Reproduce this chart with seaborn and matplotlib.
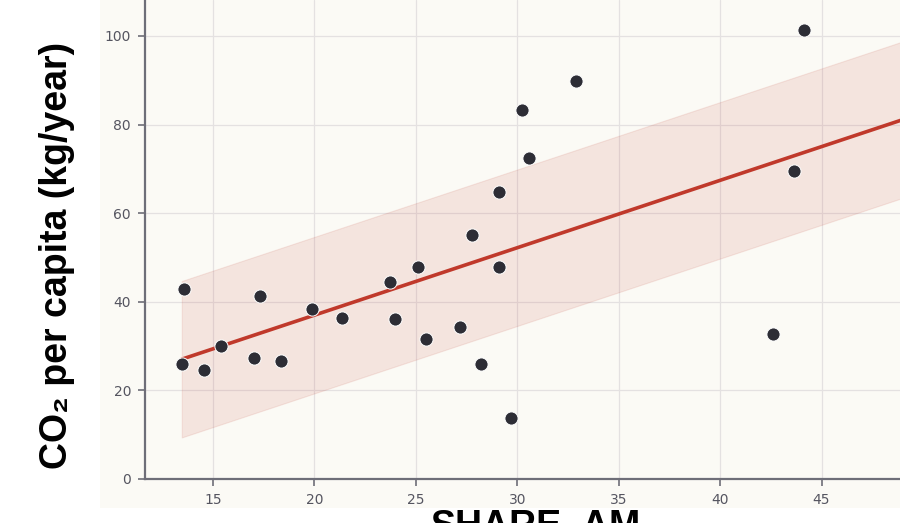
import numpy as np
import pandas as pd
import seaborn as sns
import matplotlib.pyplot as plt
from matplotlib.patches import Rectangle

# Share of active-mobility trips (%) vs. transport CO2 per capita
share_am = [13.46, 13.58, 14.56, 15.38, 17.01, 17.32, 18.37, 19.90, 21.36,
            23.71, 23.99, 25.12, 25.50, 27.19, 27.76, 28.23, 29.10, 29.10,
            29.69, 30.24, 30.60, 32.90, 42.63, 43.62, 44.16]
co2_per_capita = [26.0, 42.8, 24.6, 30.1, 27.3, 41.4, 26.7, 38.4, 36.4,
                  44.4, 36.0, 47.8, 31.6, 34.2, 55.1, 26.0, 64.8, 47.8,
                  13.7, 83.2, 72.4, 89.8, 32.8, 69.6, 101.4]
x_ticks = [15, 20, 25, 30, 35, 40, 45]
y_ticks = [0, 20, 40, 60, 80, 100]

df = pd.DataFrame({"SHARE_AM": share_am, "CO2": co2_per_capita})

sns.set_theme(style="whitegrid")
plt.rcParams["font.family"] = ["DejaVu Sans"]

BG = "#fbfaf5"
RED = "#c0392b"
DOT = "#2d2d35"

fig = plt.figure(figsize=(9, 5.23), dpi=100, facecolor="white")
fig.patches.append(Rectangle((100 / 900, 15 / 523), 1, 1, transform=fig.transFigure,
                             facecolor=BG, edgecolor="none", zorder=-5))

ax = fig.add_axes([145 / 900, 44 / 523, 782 / 900, 479 / 523])
ax.set_zorder(1)
ax.set_facecolor(BG)
ax.set_xlim(11.647, 50.2)
ax.set_ylim(0, 108.1)

# Ordinary least squares fit with a +/- 1 residual-std band
slope, intercept = np.polyfit(df["SHARE_AM"], df["CO2"], 1)
resid_sd = np.std(df["CO2"] - (intercept + slope * df["SHARE_AM"]))
xs = np.linspace(df["SHARE_AM"].min(), ax.get_xlim()[1], 100)
fit = intercept + slope * xs
ax.fill_between(xs, fit - resid_sd, fit + resid_sd, facecolor=RED, alpha=0.11,
                edgecolor=RED, linewidth=0.8, zorder=1)
sns.lineplot(x=xs, y=fit, color=RED, linewidth=2.6, ax=ax, zorder=2)

sns.scatterplot(data=df, x="SHARE_AM", y="CO2", s=90, color=DOT,
                edgecolor="white", linewidth=0.7, ax=ax, zorder=3)

ax.set_xticks(x_ticks)
ax.set_yticks(y_ticks)
ax.grid(True, color="#e4e1e1", linewidth=0.9)
ax.set_axisbelow(True)
for side in ("top", "right"):
    ax.spines[side].set_visible(False)
for side in ("left", "bottom"):
    ax.spines[side].set_color("#6e6e78")
    ax.spines[side].set_linewidth(1.6)
ax.tick_params(axis="both", which="major", length=5, width=1.2, color="#6e6e78",
               labelsize=10, labelcolor="#555560", pad=5, bottom=True, left=True)
ax.set_xlabel("")
ax.set_ylabel("")

label_font = ["Liberation Sans", "DejaVu Sans"]
fig.text(57 / 900, 1 - 255 / 523, "CO₂ per capita (kg/year)", rotation=90,
         ha="center", va="center", fontsize=27, fontweight="bold",
         family=label_font, color="black")
fig.text(536 / 900, 1 - 509 / 523, "SHARE_AM", ha="center", va="top",
         fontsize=27, fontweight="bold", family=label_font, color="black")

fig.savefig("out.png", dpi=100, facecolor="white")
